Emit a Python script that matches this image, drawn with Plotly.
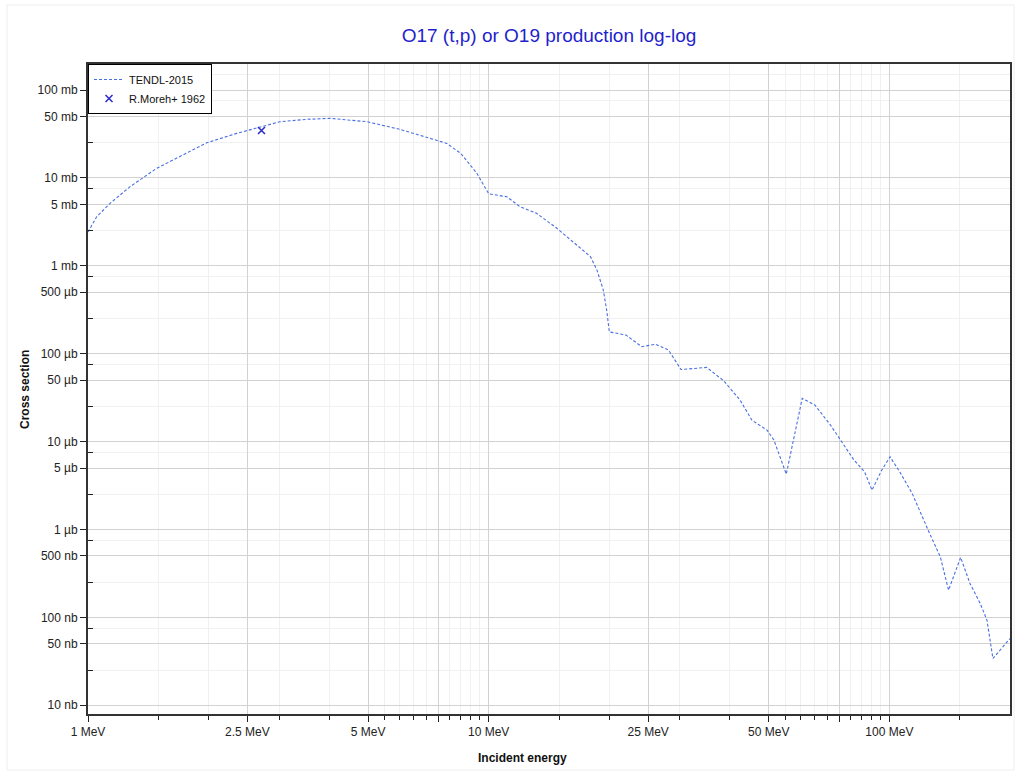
import plotly.graph_objects as go

# TENDL-2015 evaluated curve (energy in MeV, cross section in mb)
tendl_energy = [1.0, 1.051, 1.135, 1.273, 1.484, 1.698, 1.979, 2.35, 2.716, 3.015, 3.516,
                4.02, 4.97, 6.0, 7.14, 7.86, 8.52, 9.34, 10.0, 11.1, 11.97, 13.17, 14.8,
                16.6, 17.95, 18.63, 19.32, 19.7, 20.0, 22.0, 24.1, 26.1, 28.1, 30.2, 35.0,
                38.6, 42.4, 45.4, 49.5, 51.5, 55.3, 60.6, 65.2, 71.3, 75.1, 81.6, 86.7,
                90.5, 95.7, 100.4, 106.7, 114.0, 126.0, 134.0, 140.5, 150.6, 158.9, 168.5,
                175.2, 181.3, 200.0]
tendl_xs = [2.42, 3.61, 5.13, 7.94, 12.85, 17.7, 25.1, 32.1, 38.2, 43.6, 46.4,
            47.6, 43.6, 35.7, 28.2, 24.7, 19.0, 11.3, 6.6, 6.1, 4.70, 3.95, 2.67,
            1.72, 1.27, 0.893, 0.53, 0.313, 0.177, 0.163, 0.12, 0.128, 0.11, 0.066, 0.0698,
            0.0491, 0.0296, 0.0175, 0.0135, 0.0104, 0.00426, 0.031, 0.026, 0.0154, 0.01086, 0.00615, 0.00453,
            0.0028, 0.00473, 0.0067, 0.00434, 0.00257, 0.0009, 0.000488, 0.000204, 0.00048, 0.000243, 0.000144,
            0.0000929, 0.000034, 0.0000574]

# Experimental point
moreh_energy = [2.71]
moreh_xs = [34.6]

# Axis ticks
x_tickvals = [1, 2.5, 5, 7.5, 10, 25, 50, 75, 100]
x_ticktext = ["1 MeV", "2.5 MeV", "5 MeV", "", "10 MeV", "25 MeV", "50 MeV", "", "100 MeV"]
x_minor = [1.5, 2, 3, 4, 5.5, 6, 6.5, 7, 8, 8.5, 9, 9.5, 15, 20, 30, 40,
           55, 60, 65, 70, 80, 85, 90, 95, 150]

y_tickvals = [100, 50, 10, 5, 1, 0.5, 0.1, 0.05, 0.01, 0.005, 0.001, 0.0005,
              0.0001, 0.00005, 0.00001]
y_ticktext = ["100 mb", "50 mb", "10 mb", "5 mb", "1 mb", "500 µb", "100 µb", "50 µb",
              "10 µb", "5 µb", "1 µb", "500 nb", "100 nb", "50 nb", "10 nb"]
y_minor = [150, 75, 25, 7.5, 2.5, 0.75, 0.25, 0.075, 0.025, 0.0075, 0.0025,
           0.00075, 0.00025, 0.000075, 0.000025]

fig = go.Figure()
fig.add_trace(go.Scatter(
    x=tendl_energy, y=tendl_xs, mode="lines", name="TENDL-2015",
    line=dict(color="#4a6fe3", width=1.1, dash="3px,2px"),
))
fig.add_trace(go.Scatter(
    x=moreh_energy, y=moreh_xs, mode="markers", name="R.Moreh+ 1962",
    marker=dict(symbol="x-thin", size=7, line=dict(color="#2a2ac8", width=1.5)),
))

font_family = "Arial, Liberation Sans, sans-serif"

L, R, T, B = 88, 1010, 64, 714
pw, ph = R - L, B - T

fig.update_layout(
    width=1020, height=774,
    margin=dict(l=L, r=1020 - R, t=T, b=774 - B, autoexpand=False),
    paper_bgcolor="white", plot_bgcolor="white",
    font=dict(family=font_family, size=12, color="#222"),
    title=dict(text="O17 (t,p) or O19 production log-log", x=(549 - L) / pw, xanchor="center",
               xref="paper", y=1 - 35 / 774, yanchor="middle",
               font=dict(family=font_family, size=19, color="#1f1fcc")),
    showlegend=True,
    legend=dict(x=0, y=1, xanchor="left", yanchor="top", bgcolor="white",
                bordercolor="black", borderwidth=1, font=dict(size=11, color="#111"),
                tracegroupgap=0, itemwidth=30),
)

fig.update_xaxes(
    type="log", range=[0, 2.30103], automargin=False,
    tickmode="array", tickvals=x_tickvals, ticktext=x_ticktext,
    ticks="outside", ticklen=6, tickcolor="#222", tickwidth=1,
    showgrid=True, gridcolor="#d2d2d2", gridwidth=1,
    minor=dict(tickmode="array", tickvals=x_minor, ticks="outside", ticklen=4,
               tickcolor="#222", showgrid=True, gridcolor="#f0f0f0", gridwidth=1),
    showline=True, linecolor="#333", linewidth=2, mirror=True,
    zeroline=False,
    tickfont=dict(size=12, color="#222"),
)
fig.update_yaxes(
    type="log", range=[-5.10, 2.296], automargin=False,
    tickmode="array", tickvals=y_tickvals, ticktext=y_ticktext,
    ticks="outside", ticklen=6, tickcolor="#222", tickwidth=1,
    showgrid=True, gridcolor="#d2d2d2", gridwidth=1,
    minor=dict(tickmode="array", tickvals=y_minor, ticks="inside", ticklen=5,
               tickcolor="#222", showgrid=True, gridcolor="#f0f0f0", gridwidth=1),
    showline=True, linecolor="#333", linewidth=2, mirror=True,
    zeroline=False,
    tickfont=dict(size=12, color="#222"),
)

# axis titles as paper-anchored annotations
fig.add_annotation(text="<b>Incident energy</b>", xref="paper", yref="paper",
                   x=(522 - L) / pw, y=(B - 758) / ph, showarrow=False,
                   xanchor="center", yanchor="middle",
                   font=dict(size=12, color="#111", family=font_family))
fig.add_annotation(text="<b>Cross section</b>", xref="paper", yref="paper",
                   x=(25 - L) / pw, y=(B - 390) / ph, showarrow=False, textangle=-90,
                   xanchor="center", yanchor="middle",
                   font=dict(size=12, color="#111", family=font_family))

# faint outer frame
fig.add_shape(type="rect", xref="paper", yref="paper",
              x0=(7 - L) / pw, x1=(1014 - L) / pw,
              y0=(B - 770) / ph, y1=(B - 5) / ph,
              line=dict(color="#eeeeee", width=1), layer="below")

fig.write_html("out.html", config={"displayModeBar": False},
               post_script="document.body.style.margin='0';document.body.style.overflow='hidden';")
